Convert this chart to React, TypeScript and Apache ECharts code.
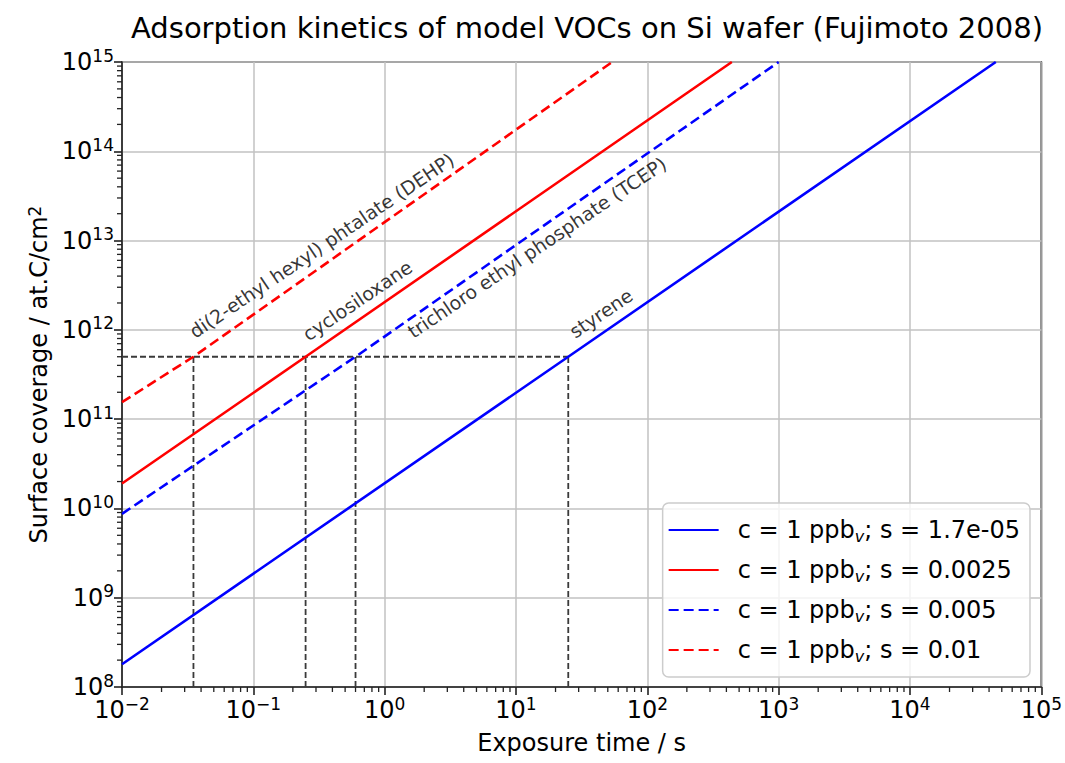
import React, { useEffect, useRef } from "react";
import * as echarts from "echarts";

const FONT = "DejaVu Sans";
const TITLE = "Adsorption kinetics of model VOCs on Si wafer (Fujimoto 2008)";
const X_LABEL = "Exposure time / s";
const Y_LABEL = "Surface coverage / at.C/cm{sup|2}";

const X_MIN = 1e-2;
const X_MAX = 1e5;
const Y_MIN = 1e8;
const Y_MAX = 1e15;

// legend names (formatter turns "ppbv" into ppb with subscript v)
const NAMES = [
  "c = 1 ppbv; s = 1.7e-05",
  "c = 1 ppbv; s = 0.0025",
  "c = 1 ppbv; s = 0.005",
  "c = 1 ppbv; s = 0.01",
];
const COLORS = ["#0000ff", "#ff0000", "#0000ff", "#ff0000"];
const DASHED = [false, false, true, true];

// [time s, coverage at.C/cm2]
const styrene = [[0.01, 1.8e8], [25, 5e11], [4.5e4, 1e15]];
const cyclosiloxane = [[0.01, 1.9e10], [0.25, 5e11], [440, 1e15]];
const tcep = [[0.01, 8.7e9], [0.6, 5e11], [1000, 1e15]];
const dehp = [[0.01, 1.55e11], [0.035, 5e11], [54, 1e15]];
const SERIES_DATA = [styrene, cyclosiloxane, tcep, dehp];

// guide lines
const GUIDE_LEVEL = 5e11;
const GUIDE_TIMES = [0.035, 0.25, 0.6, 25];

// annotations: [x, y, text]
const ANNOTATIONS: [number, number, string][] = [
  [0.037, 7.5e11, "di(2-ethyl hexyl) phtalate (DEHP)"],
  [0.27, 7.0e11, "cyclosiloxane"],
  [1.7, 7.5e11, "trichloro ethyl phosphate (TCEP)"],
  [29, 7.5e11, "styrene"],
];

const X_DECADES = [-2, -1, 0, 1, 2, 3, 4];
const Y_DECADES = [8, 9, 10, 11, 12, 13, 14];
const MINOR_MULTS = [2, 3, 4, 5, 6, 7, 8, 9];

const expLabel = (v: number) => {
  const e = Math.round(Math.log10(v));
  const s = e < 0 ? "\u2212" + -e : String(e);
  return `{b|10}{sup|${s}}`;
};

const tickRich = {
  b: { fontSize: 24, fontFamily: FONT, color: "#000", lineHeight: 30 },
  sup: { fontSize: 17, fontFamily: FONT, color: "#000", verticalAlign: "top", lineHeight: 17 },
};

export default function App() {
  const ref = useRef<HTMLDivElement>(null);
  useEffect(() => {
    if (!ref.current) return;
    const chart = echarts.init(ref.current, undefined, { renderer: "svg" });

    const series: any[] = [];
    series.push({
      name: "guideH",
      type: "line",
      data: [[X_MIN, GUIDE_LEVEL], [GUIDE_TIMES[GUIDE_TIMES.length - 1], GUIDE_LEVEL]],
      symbol: "none",
      lineStyle: { color: "#3a3a3a", width: 1.8, type: [6, 3] },
      z: 2,
    });
    GUIDE_TIMES.forEach((t, i) =>
      series.push({
        name: "guideV" + i,
        type: "line",
        data: [[t, Y_MIN], [t, GUIDE_LEVEL]],
        symbol: "none",
        lineStyle: { color: "#3a3a3a", width: 1.8, type: [6, 3] },
        z: 2,
      })
    );
    NAMES.forEach((n, i) =>
      series.push({
        name: n,
        type: "line",
        data: SERIES_DATA[i],
        symbol: "none",
        color: COLORS[i],
        lineStyle: { color: COLORS[i], width: 2.6, type: DASHED[i] ? [10, 5] : "solid" },
        z: 3,
      })
    );
    series.push({
      name: "annotations",
      type: "scatter",
      data: ANNOTATIONS.map((a) => ({ value: [a[0], a[1]], label: { formatter: a[2] } })),
      symbolSize: 0,
      silent: true,
      label: {
        show: true,
        position: [0, 0],
        align: "left",
        verticalAlign: "bottom",
        rotate: 34,
        fontSize: 19,
        fontFamily: FONT,
        color: "#000",
      },
      z: 4,
    });

    const axisCommon = {
      type: "log",
      logBase: 10,
      splitNumber: 7,
      axisLine: { show: true, onZero: false, lineStyle: { color: "#222", width: 1.6 } },
      axisTick: { show: true, length: 8, lineStyle: { color: "#222", width: 1.6 } },
      splitLine: { show: true, lineStyle: { color: "#c2c2c2", width: 1.5 } },
      minorTick: { show: false },
      nameLocation: "middle",
      nameTextStyle: {
        fontSize: 24,
        fontFamily: FONT,
        color: "#000",
        rich: {
          sup: { fontSize: 17, fontFamily: FONT, color: "#000", verticalAlign: "top", lineHeight: 17 },
        },
      },
    };

    chart.setOption({
      animation: false,
      backgroundColor: "#fff",
      title: {
        text: TITLE,
        left: 582,
        top: 8,
        textAlign: "center",
        textStyle: { fontSize: 29, fontWeight: "normal", fontFamily: FONT, color: "#000" },
      },
      grid: {
        left: 122,
        top: 62,
        width: 921,
        height: 625,
        show: true,
        borderColor: "#222",
        borderWidth: 1.6,
        backgroundColor: "transparent",
      },
      legend: {
        data: NAMES,
        orient: "vertical",
        right: 35,
        bottom: 86,
        itemWidth: 50,
        itemHeight: 14,
        itemGap: 12,
        padding: [13, 10, 13, 5],
        backgroundColor: "rgba(255,255,255,0.8)",
        borderColor: "#cccccc",
        borderWidth: 1.5,
        borderRadius: 6,
        itemStyle: { opacity: 0 },
        formatter: (n: string) => n.replace("ppbv", "ppb{sub|v}"),
        textStyle: {
          fontSize: 24,
          fontFamily: FONT,
          color: "#000",
          lineHeight: 28,
          padding: [0, 0, 0, 14],
          rich: {
            sub: {
              fontSize: 16,
              fontStyle: "italic",
              fontFamily: FONT,
              color: "#000",
              verticalAlign: "bottom",
              lineHeight: 12,
            },
          },
        },
      },
      xAxis: {
        ...axisCommon,
        min: X_MIN,
        max: X_MAX,
        name: X_LABEL,
        nameGap: 44,
        axisLabel: { formatter: expLabel, rich: tickRich, margin: 8, color: "#000" },
      },
      yAxis: {
        ...axisCommon,
        min: Y_MIN,
        max: Y_MAX,
        name: Y_LABEL,
        nameGap: 68,
        axisLabel: { formatter: expLabel, rich: tickRich, margin: 8, color: "#000" },
      },
      series,
    });

    // minor log ticks, positioned through the chart's own axis scales
    const ticks: any[] = [];
    const tickStyle = { stroke: "#222", lineWidth: 1.3 };
    X_DECADES.forEach((e) =>
      MINOR_MULTS.forEach((m) => {
        const p = chart.convertToPixel({ gridIndex: 0 }, [m * Math.pow(10, e), Y_MIN]) as number[];
        if (p && isFinite(p[0]))
          ticks.push({
            type: "line",
            silent: true,
            z: 10,
            shape: { x1: p[0], y1: p[1], x2: p[0], y2: p[1] + 5 },
            style: tickStyle,
          });
      })
    );
    Y_DECADES.forEach((e) =>
      MINOR_MULTS.forEach((m) => {
        const p = chart.convertToPixel({ gridIndex: 0 }, [X_MIN, m * Math.pow(10, e)]) as number[];
        if (p && isFinite(p[1]))
          ticks.push({
            type: "line",
            silent: true,
            z: 10,
            shape: { x1: p[0] - 5, y1: p[1], x2: p[0], y2: p[1] },
            style: tickStyle,
          });
      })
    );
    chart.setOption({ graphic: ticks });

    return () => chart.dispose();
  }, []);
  return (
    <div
      ref={ref}
      style={{ position: "fixed", left: 0, top: 0, width: 1065, height: 763, background: "#fff" }}
    />
  );
}
